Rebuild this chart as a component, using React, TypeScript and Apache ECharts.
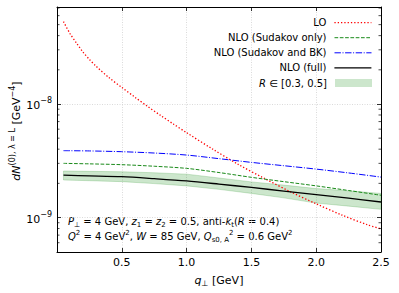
import React, { useEffect, useRef } from 'react';
import * as echarts from 'echarts';

// ---- data ----
const Q_SMOOTH = [0.05, 0.25, 0.5, 0.75, 1.0, 1.25, 1.5, 1.75, 2.0, 2.25, 2.5];
const NLO_SUDAKOV = [3.0e-9, 2.97e-9, 2.92e-9, 2.83e-9, 2.71e-9, 2.49e-9, 2.26e-9, 2.07e-9, 1.9e-9, 1.73e-9, 1.57e-9];
const NLO_SUDAKOV_BK = [3.88e-9, 3.86e-9, 3.8e-9, 3.7e-9, 3.55e-9, 3.3e-9, 3.06e-9, 2.86e-9, 2.67e-9, 2.47e-9, 2.27e-9];
const NLO_FULL = [2.36e-9, 2.33e-9, 2.29e-9, 2.2e-9, 2.1e-9, 1.97e-9, 1.84e-9, 1.71e-9, 1.59e-9, 1.48e-9, 1.37e-9];
const BAND_HI = [2.57e-9, 2.55e-9, 2.53e-9, 2.48e-9, 2.41e-9, 2.23e-9, 2.06e-9, 1.93e-9, 1.8e-9, 1.72e-9, 1.63e-9];
const BAND_LO = [2.14e-9, 2.11e-9, 2.07e-9, 1.99e-9, 1.9e-9, 1.77e-9, 1.63e-9, 1.49e-9, 1.34e-9, 1.26e-9, 1.18e-9];
const Q_LO = [0.05, 0.1, 0.15, 0.2, 0.25, 0.3, 0.4, 0.5, 0.6, 0.7, 0.8, 0.9, 1.0, 1.2, 1.4, 1.6, 1.8, 2.0, 2.2, 2.4, 2.5];
const LO = [5.31e-8, 4.18e-8, 3.45e-8, 2.87e-8, 2.47e-8, 2.16e-8, 1.71e-8, 1.4e-8, 1.15e-8, 9.5e-9, 7.92e-9, 6.64e-9, 5.59e-9, 4.01e-9, 2.93e-9, 2.21e-9, 1.69e-9, 1.32e-9, 1.05e-9, 8.6e-10, 7.95e-10];
const MINOR_Y_TICKS = [6e-10, 7e-10, 8e-10, 9e-10, 2e-9, 3e-9, 4e-9, 5e-9, 6e-9, 7e-9, 8e-9, 9e-9, 2e-8, 3e-8, 4e-8, 5e-8, 6e-8, 7e-8];
const X_MIN = 0;
const X_MAX = 2.5;
const Y_MIN = 4.97e-10;
const Y_MAX = 7.15e-8;

const NAMES = ['LO', 'NLO (Sudakov only)', 'NLO (Sudakov and BK)', 'NLO (full)', 'R ∈ [0.3, 0.5]'];

const FONT = 'DejaVu Sans';

const rs = (size: number, extra: any = {}) => ({ fontSize: size, fontFamily: FONT, color: '#000', ...extra });
const gs = (size: number, extra: any = {}) => ({ fontSize: size, fontFamily: FONT, fill: '#000', ...extra });

const pairs = (xs: number[], ys: number[]) => xs.map((x, i) => [x, ys[i]]);

function buildOption() {
  const axisLine = { show: true, onZero: false, lineStyle: { color: '#000', width: 1 } };
  const majorTick = { show: true, inside: true, length: 4, lineStyle: { color: '#000', width: 0.8 } };
  const gridLine = { show: true, lineStyle: { color: '#d0d0d0', type: [1, 1.5], width: 0.8 } };

  const legendTops = [16.6, 31.7, 46.8, 61.9, 77];
  const legendLineWidths = [1.2, 1, 1, 1.2];
  const legends = NAMES.map((n, i) => ({
    show: true,
    orient: 'horizontal',
    right: 27,
    top: legendTops[i],
    padding: 0,
    align: 'right',
    selectedMode: false,
    itemWidth: 37,
    itemHeight: i === 4 ? 8 : 11,
    itemStyle: i === 4 ? undefined : { opacity: 0, borderWidth: 0 },
    lineStyle: i === 4 ? undefined : { width: legendLineWidths[i] },
    data: i === 4 ? [{ name: n, icon: 'rect', itemStyle: { color: '#cce6cc', borderWidth: 0, opacity: 1 } }] : [n],
    formatter: (name: string) => (name.startsWith('R') ? '{i|R} ∈ [0.3, 0.5]' : name),
    textStyle: {
      fontSize: 10,
      fontFamily: FONT,
      color: '#000',
      lineHeight: 12,
      padding: [0, 3, 0, 0],
      rich: { i: rs(10, { fontStyle: 'italic', lineHeight: 12 }) },
    },
  }));

  const yLabelFormatter = (v: number) => {
    const l = Math.log10(v);
    const e = Math.round(l);
    if (Math.abs(l - e) > 1e-6) return '';
    return `{b|10}{s|${e < 0 ? '−' : ''}${Math.abs(e)}}`;
  };

  return {
    animation: false,
    grid: { left: 57, right: 18, top: 7, bottom: 41, containLabel: false },
    legend: legends,
    xAxis: [
      {
        type: 'value',
        min: X_MIN,
        max: X_MAX,
        interval: 0.5,
        position: 'bottom',
        name: '{i|q}{sub|⊥} [GeV]',
        nameLocation: 'middle',
        nameGap: 17,
        nameTextStyle: {
          ...rs(11),
          lineHeight: 15,
          rich: {
            i: rs(11, { fontStyle: 'italic', lineHeight: 15 }),
            sub: rs(8, { verticalAlign: 'bottom', lineHeight: 9 }),
          },
        },
        axisLine,
        axisTick: majorTick,
        axisLabel: { show: true, margin: 5, ...rs(11), showMinLabel: false, formatter: (v: number) => v.toFixed(1) },
        splitLine: gridLine,
      },
      {
        type: 'value',
        min: X_MIN,
        max: X_MAX,
        interval: 0.5,
        position: 'top',
        axisLine,
        axisTick: majorTick,
        axisLabel: { show: false },
        splitLine: { show: false },
      },
    ],
    yAxis: [
      {
        type: 'log',
        logBase: 10,
        min: Y_MIN,
        max: Y_MAX,
        position: 'left',
        axisLine,
        axisTick: majorTick,
        axisLabel: {
          show: true,
          margin: 5,
          showMinLabel: false,
          showMaxLabel: false,
          formatter: yLabelFormatter,
          rich: {
            b: rs(11, { lineHeight: 15, verticalAlign: 'bottom' }),
            s: rs(8, { lineHeight: 11, verticalAlign: 'top' }),
          },
        },
        splitLine: gridLine,
      },
      {
        type: 'log',
        logBase: 10,
        min: Y_MIN,
        max: Y_MAX,
        position: 'right',
        axisLine,
        axisTick: majorTick,
        axisLabel: { show: false },
        splitLine: { show: false },
      },
    ],
    graphic: [
      {
        type: 'text',
        x: 16,
        y: 131,
        rotation: Math.PI / 2,
        silent: true,
        style: {
          text: '{i|dN}{sup|(0), λ = L} [GeV{sup|−4}]',
          ...gs(11),
          lineHeight: 15,
          align: 'center',
          verticalAlign: 'middle',
          rich: {
            i: gs(11, { fontStyle: 'italic', lineHeight: 15 }),
            sup: gs(8, { verticalAlign: 'top', lineHeight: 9 }),
          },
        },
      },
      {
        type: 'text',
        x: 68,
        y: 221.7,
        silent: true,
        style: {
          text: '{i|P}{sub|⊥} = 4 GeV, {i|z}{sub|1} = {i|z}{sub|2} = 0.5, anti-{i|k}{sub|t}({i|R} = 0.4)',
          ...gs(10),
          lineHeight: 14,
          verticalAlign: 'middle',
          rich: {
            i: gs(10, { fontStyle: 'italic', lineHeight: 14 }),
            sub: gs(7, { verticalAlign: 'bottom', lineHeight: 9 }),
          },
        },
      },
      {
        type: 'text',
        x: 68,
        y: 236.7,
        silent: true,
        style: {
          text: '{i|Q}{sup|2} = 4 GeV{sup|2}, {i|W} = 85 GeV, {i|Q}{sub|s0, A}{sup|2} = 0.6 GeV{sup|2}',
          ...gs(10),
          lineHeight: 14,
          verticalAlign: 'middle',
          rich: {
            i: gs(10, { fontStyle: 'italic', lineHeight: 14 }),
            sub: gs(7, { verticalAlign: 'bottom', lineHeight: 9 }),
            sup: gs(7, { verticalAlign: 'top', lineHeight: 9 }),
          },
        },
      },
    ],
    series: [
      {
        name: NAMES[4],
        type: 'custom',
        xAxisIndex: 0,
        yAxisIndex: 0,
        silent: true,
        z: 1,
        data: [[Q_SMOOTH[0], BAND_HI[0]]],
        renderItem: (params: any, api: any) => {
          if (params.dataIndex !== 0) return null;
          const pts: number[][] = [];
          for (let i = 0; i < Q_SMOOTH.length; i++) pts.push(api.coord([Q_SMOOTH[i], BAND_HI[i]]));
          for (let i = Q_SMOOTH.length - 1; i >= 0; i--) pts.push(api.coord([Q_SMOOTH[i], BAND_LO[i]]));
          return {
            type: 'polygon',
            shape: { points: pts },
            style: { fill: 'rgba(0,128,0,0.2)', stroke: 'rgba(0,128,0,0.18)', lineWidth: 1 },
          };
        },
      },
      {
        name: NAMES[0],
        type: 'line',
        symbol: 'none',
        smooth: 0.3,
        z: 3,
        data: pairs(Q_LO, LO),
        lineStyle: { color: '#ff0000', width: 1.3, type: [1.3, 2] },
        itemStyle: { color: '#ff0000' },
      },
      {
        name: NAMES[1],
        type: 'line',
        symbol: 'none',
        smooth: 0.3,
        z: 3,
        data: pairs(Q_SMOOTH, NLO_SUDAKOV),
        lineStyle: { color: '#1a8a1a', width: 1, type: [3.7, 1.6] },
        itemStyle: { color: '#1a8a1a' },
      },
      {
        name: NAMES[2],
        type: 'line',
        symbol: 'none',
        smooth: 0.3,
        z: 3,
        data: pairs(Q_SMOOTH, NLO_SUDAKOV_BK),
        lineStyle: { color: '#0000ff', width: 1, type: [6.4, 1.6, 1, 1.6] },
        itemStyle: { color: '#0000ff' },
      },
      {
        name: NAMES[3],
        type: 'line',
        symbol: 'none',
        smooth: 0.3,
        z: 3,
        data: pairs(Q_SMOOTH, NLO_FULL),
        lineStyle: { color: '#000000', width: 1.3, type: 'solid' },
        itemStyle: { color: '#000000' },
      },
      {
        name: 'minor-ticks',
        type: 'custom',
        xAxisIndex: 0,
        yAxisIndex: 0,
        silent: true,
        z: 5,
        data: MINOR_Y_TICKS.map((v) => [X_MIN, v]),
        renderItem: (params: any, api: any) => {
          const cs = params.coordSys;
          const y = api.coord([X_MIN, api.value(1)])[1];
          const st = { stroke: '#000', lineWidth: 0.7 };
          return {
            type: 'group',
            children: [
              { type: 'line', shape: { x1: cs.x, y1: y, x2: cs.x + 2.5, y2: y }, style: st },
              { type: 'line', shape: { x1: cs.x + cs.width, y1: y, x2: cs.x + cs.width - 2.5, y2: y }, style: st },
            ],
          };
        },
      },
    ],
  };
}

export default function App() {
  const ref = useRef<HTMLDivElement>(null);
  useEffect(() => {
    if (!ref.current) return;
    const chart = echarts.init(ref.current, null, { renderer: 'svg' });
    chart.setOption(buildOption() as any);
    return () => chart.dispose();
  }, []);
  return (
    <div
      ref={ref}
      style={{ position: 'fixed', left: 0, top: 0, width: 399, height: 293, background: '#fff' }}
    />
  );
}
